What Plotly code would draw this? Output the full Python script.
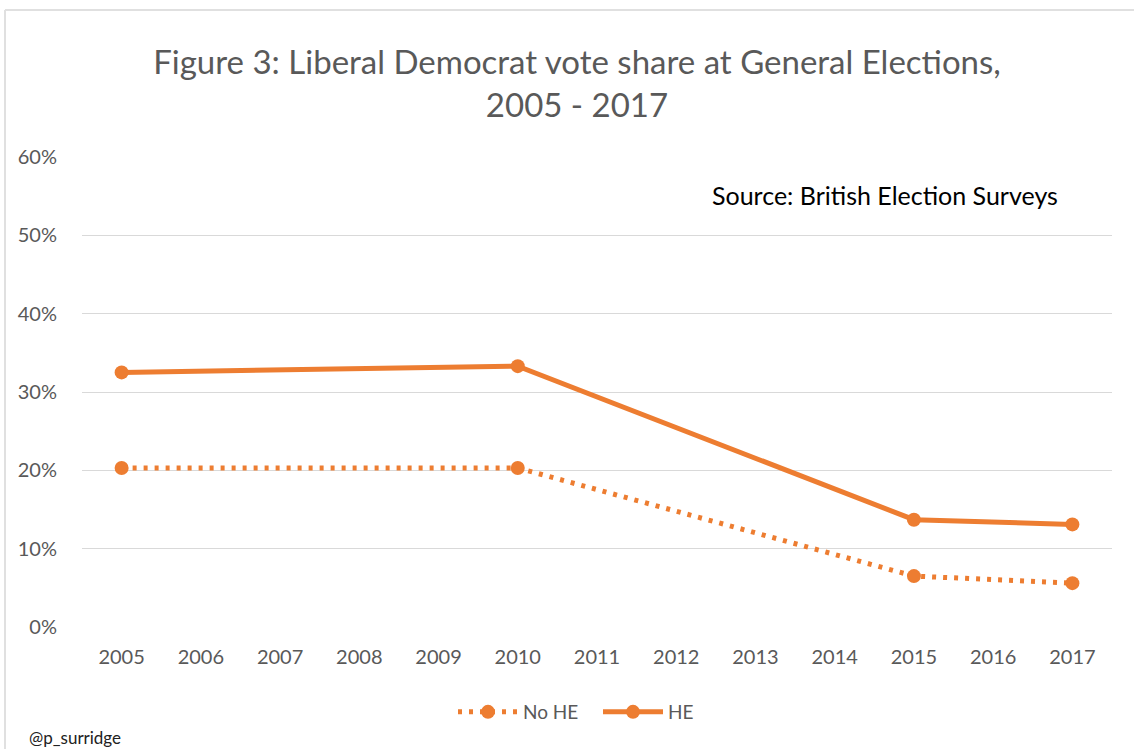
import plotly.graph_objects as go

years = [2005, 2010, 2015, 2017]
no_he = [20.3, 20.3, 6.5, 5.6]
he = [32.5, 33.3, 13.7, 13.1]
tick_years = list(range(2005, 2018))
y_ticks = [0, 10, 20, 30, 40, 50, 60]
y_labels = [f"{v}%" for v in y_ticks]

orange = "#ED7D31"
grey_txt = "#595959"
font_fam = "Lato, Open Sans, sans-serif"

fig = go.Figure()
fig.add_trace(go.Scatter(
    x=years, y=no_he, name="No HE", mode="lines+markers",
    line=dict(color=orange, width=5, dash="4px,7px"),
    marker=dict(color=orange, size=14),
))
fig.add_trace(go.Scatter(
    x=years, y=he, name="HE", mode="lines+markers",
    line=dict(color=orange, width=5),
    marker=dict(color=orange, size=14),
))

L, R, T, B = 82, 22, 157, 122
W, H = 1134, 749
pw, ph = W - L - R, H - T - B

def px_x(x):
    return (x - L) / pw

def px_y(y):
    return (H - B - y) / ph

fig.update_layout(
    width=W, height=H,
    margin=dict(l=L, r=R, t=T, b=B),
    paper_bgcolor="white", plot_bgcolor="white",
    font=dict(family=font_fam, color=grey_txt),
    title=dict(
        text="Figure 3: Liberal Democrat vote share at General Elections,<br>2005 - 2017",
        x=px_x(577), xref="paper", xanchor="center",
        y=1 - 74 / H, yref="container", yanchor="middle",
        font=dict(size=33, color=grey_txt, family=font_fam),
    ),
    xaxis=dict(
        range=[2004.5, 2017.5], tickmode="array", tickvals=tick_years,
        ticktext=[str(y) for y in tick_years],
        showgrid=False, zeroline=False, showline=False,
        ticks="outside", ticklen=12, tickcolor="rgba(0,0,0,0)",
        tickfont=dict(size=20, color=grey_txt),
    ),
    yaxis=dict(
        range=[0, 60], tickmode="array", tickvals=y_ticks, ticktext=y_labels,
        showgrid=True, gridcolor="#d9d9d9", gridwidth=1,
        zeroline=False, showline=False,
        ticks="outside", ticklen=20, tickcolor="rgba(0,0,0,0)",
        tickfont=dict(size=20, color=grey_txt),
    ),
    legend=dict(
        orientation="h", x=px_x(598), xanchor="center",
        y=px_y(712), yanchor="middle",
        font=dict(size=19, color=grey_txt),
        itemwidth=60, entrywidth=70, entrywidthmode="pixels",
    ),
    showlegend=True,
)

fig.add_annotation(
    text="Source: British Election Surveys", xref="paper", yref="paper",
    x=px_x(1060), xanchor="right", y=px_y(195), yanchor="middle",
    showarrow=False, font=dict(size=25, color="black", family=font_fam),
)
fig.add_annotation(
    text="@p_surridge", xref="paper", yref="paper",
    x=px_x(27), xanchor="left", y=px_y(737), yanchor="middle",
    showarrow=False, font=dict(size=17, color="#222222", family=font_fam),
)
fig.add_shape(
    type="line", xref="paper", yref="paper",
    x0=px_x(5), x1=px_x(1140), y0=px_y(10), y1=px_y(10),
    line=dict(color="#e0e0e0", width=2),
)
fig.add_shape(
    type="line", xref="paper", yref="paper",
    x0=px_x(5), x1=px_x(5), y0=px_y(10), y1=px_y(760),
    line=dict(color="#e0e0e0", width=2),
)

fig.write_html("out.html")
